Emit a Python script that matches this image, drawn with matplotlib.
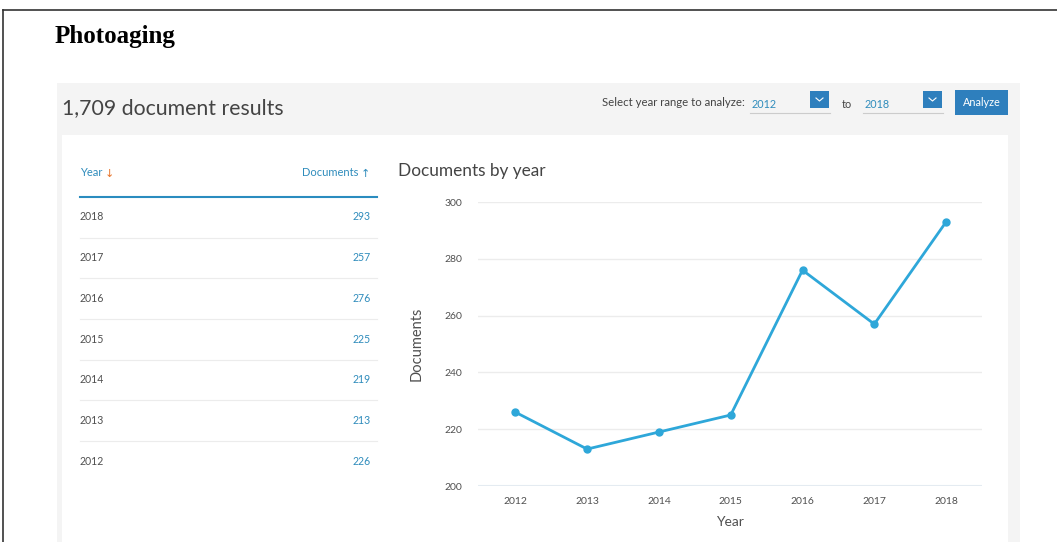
import matplotlib
matplotlib.use('Agg')
import matplotlib.pyplot as plt
from matplotlib.patches import Rectangle

# Documents per year for the "Photoaging" search
years = [2012, 2013, 2014, 2015, 2016, 2017, 2018]
documents = [226, 213, 219, 225, 276, 257, 293]
y_ticks = [200, 220, 240, 260, 280, 300]
total_label = '1,709 document results'
range_from = '2012'
range_to = '2018'

W, H = 1057, 542
BLUE = '#2ea7d9'
LINK = '#2f8cbc'
TEXT = '#505050'
FONT = 'Lato'

fig = plt.figure(figsize=(W / 100, H / 100), dpi=100)
fig.patch.set_facecolor('white')

# page chrome drawn in pixel coordinates
bg = fig.add_axes([0, 0, 1, 1])
bg.set_xlim(0, W)
bg.set_ylim(H, 0)
bg.axis('off')

bg.plot([3, W], [10, 10], color='#333333', lw=1.2)
bg.plot([3, 3], [10, H], color='#333333', lw=1.2)
bg.text(55, 36, 'Photoaging', family='Liberation Serif', weight='bold',
        fontsize=18, va='center', color='black')

bg.add_patch(Rectangle((57, 83), 963, H - 83, color='#f4f4f4', lw=0))
bg.add_patch(Rectangle((62, 135), 946, H - 135, color='white', lw=0))

bg.text(62, 108, total_label, family=FONT, fontsize=15.3, va='center', color='#444444')

# year range selector
bg.text(602, 103, 'Select year range to analyze:', family=FONT, fontsize=8.2,
        va='center', color='#444444')
for x0, label in [(750, range_from), (863, range_to)]:
    bg.text(x0 + 2, 104, label, family=FONT, fontsize=7.8, va='center', color=LINK)
    bg.plot([x0, x0 + 80], [113, 113], color='#cccccc', lw=0.8)
    bg.add_patch(Rectangle((x0 + 60, 91), 19, 17, color='#2e7fbd', lw=0))
    bg.plot([x0 + 66, x0 + 69.5, x0 + 73], [98, 101, 98], color='white', lw=0.8)
bg.text(842, 104, 'to', family=FONT, fontsize=7.8, va='center', color='#444444')
bg.add_patch(Rectangle((955, 90), 53, 25, color='#2e7fbd', lw=0))
bg.text(981.5, 102.5, 'Analyze', family=FONT, fontsize=7.8, va='center',
        ha='center', color='white')

# table of documents per year
bg.text(80, 173, 'Year', family=FONT, fontsize=8, va='center', color=LINK)
bg.text(105, 174, '↓', family='DejaVu Sans', fontsize=8, va='center', color='#e8742a')
bg.text(358, 173, 'Documents', family=FONT, fontsize=8, va='center', ha='right', color=LINK)
bg.text(361, 174, '↑', family='DejaVu Sans', fontsize=8, va='center', color=LINK)
bg.plot([80, 377], [196.5, 196.5], color='#2a8cbf', lw=1.5)

row_step = 40.7
for i, (yr, n) in enumerate(zip(years[::-1], documents[::-1])):
    yc = 217 + i * row_step
    bg.text(80, yc, str(yr), family=FONT, fontsize=7.6, va='center', color=TEXT)
    bg.text(371, yc, str(n), family=FONT, fontsize=7.6, va='center', ha='right', color=LINK)
    if i < len(years) - 1:
        bg.plot([80, 377], [yc + 20.5, yc + 20.5], color='#ececec', lw=0.8)

bg.text(398, 171, 'Documents by year', family=FONT, fontsize=12.4, va='center', color='#444444')

# line chart
left, right, top, bottom = 478, 982, 202, 486
ax = fig.add_axes([left / W, 1 - bottom / H, (right - left) / W, (bottom - top) / H])
ax.set_facecolor('none')
ax.plot(years, documents, color=BLUE, lw=2, marker='o', markersize=5, zorder=3)
ax.set_xlim(2011.48, 2018.5)
ax.set_ylim(200, 300)
ax.set_yticks(y_ticks)
ax.set_xticks(years)
ax.grid(axis='y', color='#ececec', lw=1)
for s in ax.spines.values():
    s.set_visible(False)
ax.axhline(200, color='#e3ebf3', lw=1.5, zorder=1)
ax.tick_params(length=0, labelsize=7.5, labelcolor=TEXT, pad=11)
ax.tick_params(axis='x', pad=8)
for lab in ax.get_xticklabels() + ax.get_yticklabels():
    lab.set_family(FONT)
ax.set_xlabel('Year', family=FONT, fontsize=10, color=TEXT, labelpad=7)
ax.set_ylabel('Documents', family=FONT, fontsize=10.5, color=TEXT, labelpad=15)

fig.savefig('out.png', dpi=100)
